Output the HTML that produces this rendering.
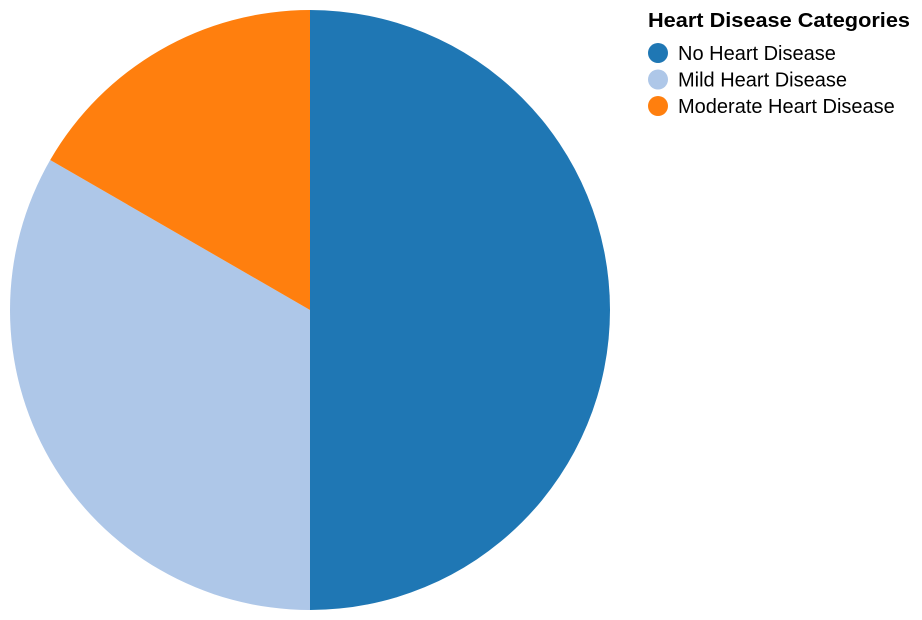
<!DOCTYPE html>
<html>
<head>
<meta charset="utf-8">
<style>
  html,body{margin:0;padding:0;background:#fff;}
  svg{display:block;font-family:"Liberation Sans",Arial,sans-serif;}
</style>
</head>
<body>
<svg id="chart" width="922" height="620">
  <g id="slices"></g>
  <g id="legend">
    <text x="648" y="27" font-size="20" font-weight="bold" fill="#000" textLength="262" lengthAdjust="spacingAndGlyphs">Heart Disease Categories</text>
  </g>
</svg>
<script>
const categories = ["No Heart Disease", "Mild Heart Disease", "Moderate Heart Disease"];
const values = [150, 100, 50];
const colors = ["#1f77b4", "#aec7e8", "#ff7f0e"];

const cx = 310, cy = 310, r = 300;
const total = values.reduce((a, b) => a + b, 0);
function angle(v) { return v / total * Math.PI * 2; }
function pt(a) { return [cx + r * Math.sin(a), cy - r * Math.cos(a)]; }

const ns = "http://www.w3.org/2000/svg";
const gS = document.getElementById("slices");
let acc = 0;
values.forEach((v, i) => {
  const a0 = angle(acc), a1 = angle(acc + v);
  acc += v;
  const [x0, y0] = pt(a0), [x1, y1] = pt(a1);
  const large = (a1 - a0) > Math.PI ? 1 : 0;
  const p = document.createElementNS(ns, "path");
  p.setAttribute("d", `M${cx},${cy}L${x0},${y0}A${r},${r} 0 ${large} 1 ${x1},${y1}Z`);
  p.setAttribute("fill", colors[i]);
  
  
  gS.appendChild(p);
});

const gL = document.getElementById("legend");
categories.forEach((c, i) => {
  const y = 53 + i * 26.5;
  const circ = document.createElementNS(ns, "circle");
  circ.setAttribute("cx", 658); circ.setAttribute("cy", y); circ.setAttribute("r", 10);
  circ.setAttribute("fill", colors[i]);
  
  
  gL.appendChild(circ);
  const t = document.createElementNS(ns, "text");
  t.setAttribute("x", 678); t.setAttribute("y", y + 7);
  t.setAttribute("font-size", "20"); t.setAttribute("fill", "#000");
  t.textContent = c;
  
  
  gL.appendChild(t);
});
</script>
</body>
</html>
